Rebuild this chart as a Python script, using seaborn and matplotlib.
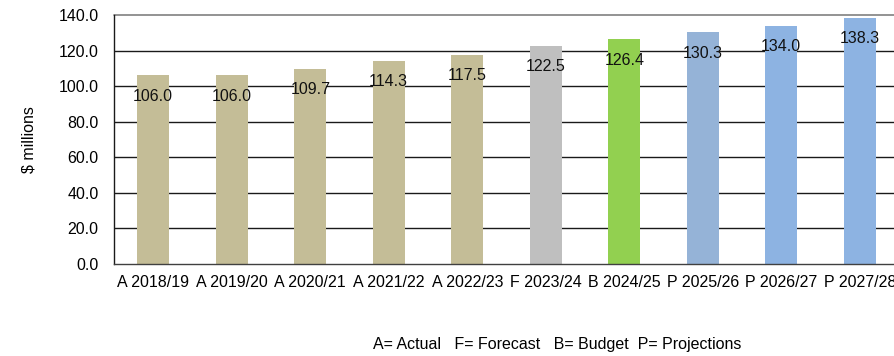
import matplotlib
matplotlib.use("Agg")
import matplotlib.pyplot as plt
import seaborn as sns
import pandas as pd

years = ["A 2018/19", "A 2019/20", "A 2020/21", "A 2021/22", "A 2022/23",
         "F 2023/24", "B 2024/25", "P 2025/26", "P 2026/27", "P 2027/28"]
values = [106.0, 106.0, 109.7, 114.3, 117.5, 122.5, 126.4, 130.3, 134.0, 138.3]
colors = ["#C4BD97", "#C4BD97", "#C4BD97", "#C4BD97", "#C4BD97",
          "#BFBFBF", "#92D050", "#95B3D7", "#8DB3E2", "#8DB3E2"]

sns.set_theme(style="white")
plt.rcParams["font.family"] = ["Liberation Sans Narrow", "Liberation Sans", "DejaVu Sans"]
plt.rcParams["text.color"] = "black"
plt.rcParams["xtick.color"] = "black"
plt.rcParams["ytick.color"] = "black"
plt.rcParams["axes.labelcolor"] = "black"

df = pd.DataFrame({"year": years, "value": values})

fig = plt.figure(figsize=(8.95, 3.56), dpi=100)
ax = fig.add_axes([114 / 895, 92 / 356, 785 / 895, 249 / 356])

sns.barplot(data=df, x="year", y="value", hue="year", palette=colors,
            dodge=False, legend=False, width=0.41, saturation=1,
            linewidth=0, edgecolor="none", ax=ax)

ax.set_ylim(0, 140)
ax.set_yticks(range(0, 141, 20))
ax.set_yticklabels([f"{v:.1f}" for v in range(0, 141, 20)], fontsize=11.5)
ax.set_xlim(-0.5, len(years) - 0.5)
ax.set_xticks([i - 0.5 for i in range(len(years))], minor=False)
ax.set_xticklabels([])
ax.set_xticks(range(len(years)), minor=True)
ax.set_xticklabels(years, minor=True, fontsize=11.5)
ax.tick_params(axis="x", which="major", length=5, width=1, color="#404040", direction="out")
ax.tick_params(axis="x", which="minor", length=0, pad=8)
ax.tick_params(axis="y", length=5, width=1, color="#404040", direction="out", pad=6)
ax.set_xlabel("")
ax.set_ylabel("$ millions", fontsize=11.5, labelpad=16)

for y in range(20, 140, 20):
    ax.axhline(y, color="#1a1a1a", lw=1, zorder=0)
ax.set_axisbelow(True)

for side in ["top", "right"]:
    ax.spines[side].set_visible(False)
ax.axhline(140, color="#808080", lw=1.2, zorder=0, clip_on=False)
ax.spines["left"].set_color("#1a1a1a")
ax.spines["bottom"].set_color("#404040")
ax.spines["left"].set_linewidth(1)
ax.spines["bottom"].set_linewidth(1)

for i, v in enumerate(values):
    ax.annotate(f"{v:.1f}", xy=(i, v), xytext=(0, -15), textcoords="offset points",
                ha="center", va="center", fontsize=11.5, color="#111111")

fig.text(557 / 895, 1 - 344 / 356, "A= Actual   F= Forecast   B= Budget  P= Projections",
         ha="center", va="center", fontsize=11.5)

fig.savefig("out.png", dpi=100)
